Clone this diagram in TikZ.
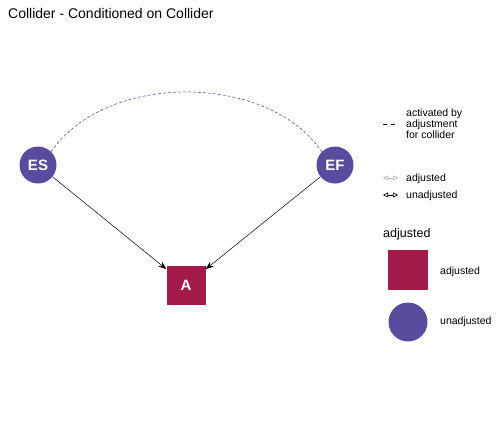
\documentclass[tikz,border=0pt]{standalone}
\usepackage{fontspec}
\setmainfont{Liberation Sans}
\usetikzlibrary{arrows.meta}
\definecolor{unadj}{HTML}{5A4B9E}
\definecolor{adj}{HTML}{A31B4B}
\definecolor{dashc}{HTML}{4B43A0}
\begin{document}
\begin{tikzpicture}[x=1pt,y=-1pt,
  circnode/.style={circle,fill=unadj,minimum size=37pt,inner sep=0pt,text=white,font=\fontsize{15}{17}\selectfont\bfseries},
  sqnode/.style={rectangle,fill=adj,minimum size=39pt,inner sep=0pt,text=white,font=\fontsize{15}{17}\selectfont\bfseries},
  edge/.style={-{Stealth[length=8pt,width=6pt]},black,line width=0.5pt},
  legtext/.style={anchor=west,font=\fontsize{10.5}{10.8}\selectfont,inner sep=0pt},
  legarrow/.style={{Triangle[open,length=5pt,width=5pt]}-{Triangle[open,length=5pt,width=5pt]},line width=0.6pt}]
\useasboundingbox (0,0) rectangle (504,432);
\node[anchor=west,inner sep=0pt,font=\fontsize{14}{16}\selectfont] (title) at (8,13) {Collider - Conditioned on Collider};
\node[circnode] (ES) at (38,165) {ES};
\node[circnode] (EF) at (335,165) {EF};
\node[sqnode] (A) at (186,285) {A};
\draw[edge] (ES) -- (A);
\draw[edge] (EF) -- (A);
\draw[dashc,line width=0.5pt,dash pattern=on 3pt off 2pt] (ES.45) .. controls (105,72) and (268,72) .. (EF.135);
% legend
\coordinate (d1) at (383,124);
\coordinate (d2) at (398,124);
\draw[dash pattern=on 4pt off 4pt,line width=0.6pt] (d1) -- (d2);
\node[legtext,align=left] (actlab) at (406,124) {activated by\\adjustment\\for collider};
\coordinate (a1) at (383,178);
\coordinate (a2) at (398,178);
\draw[legarrow,gray!60] (a1) -- (a2);
\node[legtext] (adjlab) at (406,179) {adjusted};
\coordinate (u1) at (383,195);
\coordinate (u2) at (398,195);
\draw[legarrow,black] (u1) -- (u2);
\node[legtext] (unadjlab) at (406,196) {unadjusted};
\node[anchor=west,inner sep=0pt,font=\fontsize{12.5}{14}\selectfont] (legtitle) at (383,234) {adjusted};
\node[rectangle,fill=adj,minimum size=40pt,inner sep=0pt] (legsq) at (408,270) {};
\node[legtext] (legsqlab) at (440,272) {adjusted};
\node[circle,fill=unadj,minimum size=39pt,inner sep=0pt] (legci) at (408,322) {};
\node[legtext] (legcilab) at (440,322) {unadjusted};
\end{tikzpicture}
\end{document}
